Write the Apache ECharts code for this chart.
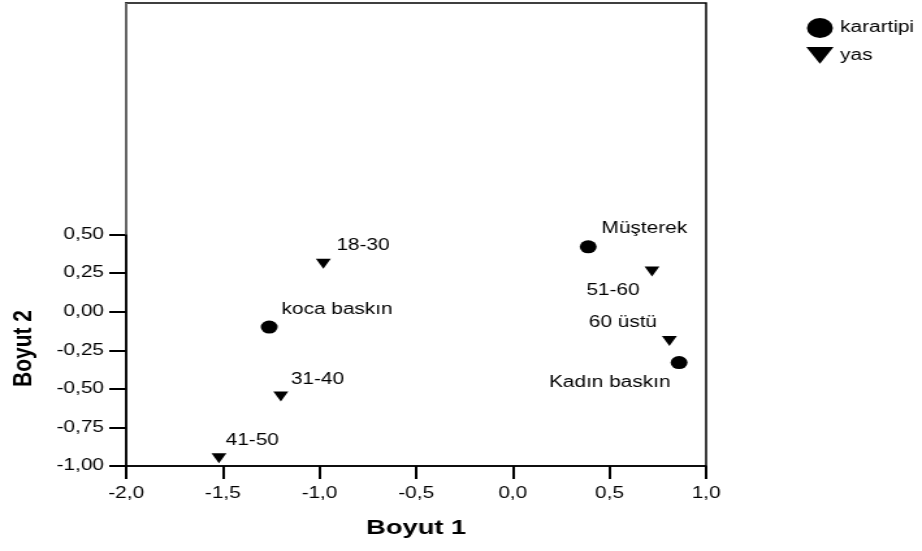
<!DOCTYPE html>
<html>
<head>
<meta charset="utf-8">
<script src="https://cdn.jsdelivr.net/npm/echarts@6/dist/echarts.min.js"></script>
<style>
  html, body { margin: 0; padding: 0; background: #fff; overflow: hidden; }
  /* the plot is drawn narrow and widened horizontally */
  #chart { width: 709px; height: 551px; transform: scaleX(1.3004); transform-origin: 0 0; }
</style>
</head>
<body>
<div id="chart"></div>
<script>
// Category points (karartipi)
const karartipiNames = ['Müşterek', 'koca baskın', 'Kadın baskın'];
const karartipiX = [0.39, -1.26, 0.86];
const karartipiY = [0.42, -0.10, -0.33];

// Age group points (yas)
const yasNames = ['18-30', '31-40', '41-50', '51-60', '60 üstü'];
const yasX = [-0.98, -1.20, -1.52, 0.72, 0.81];
const yasY = [0.31, -0.55, -0.95, 0.26, -0.19];

// Axis ticks
const xTicks = [-2.0, -1.5, -1.0, -0.5, 0.0, 0.5, 1.0];
const yTicks = [-1.00, -0.75, -0.50, -0.25, 0.00, 0.25, 0.50];

const FONT = "'Liberation Sans', Arial, sans-serif";
const TRI = 'path://M0,0L20,0L10,16Z';

// where each point's label sits relative to its marker
const labelPlace = {
  '18-30':        { align: 'left',  offset: [10, -18] },
  'koca baskın':  { align: 'left',  offset: [9.5, -18] },
  '31-40':        { align: 'left',  offset: [7.7, -17] },
  '41-50':        { align: 'left',  offset: [5.2, -18] },
  'Müşterek':     { align: 'left',  offset: [10.3, -18] },
  '51-60':        { align: 'right', offset: [-9.5, 19] },
  '60 üstü':      { align: 'right', offset: [-9.5, -18] },
  'Kadın baskın': { align: 'right', offset: [-6.6, 20] }
};

function points(names, xs, ys) {
  return names.map((n, i) => ({
    name: n,
    value: [xs[i], ys[i]],
    label: {
      show: true,
      position: 'inside',
      align: labelPlace[n].align,
      verticalAlign: 'middle',
      offset: labelPlace[n].offset,
      formatter: '{b}',
      color: '#000',
      fontSize: 16,
      fontFamily: FONT
    }
  }));
}

const chart = echarts.init(document.getElementById('chart'));
chart.setOption({
  animation: false,
  textStyle: { fontFamily: FONT },
  grid: {
    left: 97, right: 166, top: 3, bottom: 85,
    show: true, borderColor: '#000', borderWidth: 1.5, backgroundColor: 'transparent'
  },
  legend: {
    orient: 'vertical',
    left: 615, top: 13,
    itemWidth: 21, itemHeight: 20, itemGap: 9,
    textStyle: { fontSize: 16, color: '#000', fontFamily: FONT },
    data: [
      { name: 'karartipi', icon: 'circle' },
      { name: 'yas', icon: TRI }
    ]
  },
  xAxis: {
    type: 'value',
    min: -2, max: 1, interval: 0.5,
    name: 'Boyut 1',
    nameLocation: 'middle',
    nameGap: 52,
    nameTextStyle: { fontSize: 21, fontWeight: 'bold', color: '#000', fontFamily: FONT },
    axisLine: { show: true, onZero: false, lineStyle: { color: '#000', width: 1.5 } },
    axisTick: { show: true, inside: false, length: 13, lineStyle: { color: '#000', width: 2 } },
    axisLabel: {
      margin: 20, fontSize: 16, color: '#000', fontFamily: FONT,
      customValues: xTicks,
      formatter: v => v.toFixed(1).replace('.', ',')
    },
    splitLine: { show: false }
  },
  yAxis: {
    type: 'value',
    min: -1, max: 2, interval: 0.25,
    axisLine: { show: true, onZero: false, lineStyle: { color: '#000', width: 1.5 } },
    axisTick: { show: true, inside: false, length: 13, customValues: yTicks, lineStyle: { color: '#000', width: 2 } },
    axisLabel: {
      margin: 17, fontSize: 16, color: '#000', fontFamily: FONT,
      customValues: yTicks,
      formatter: v => v.toFixed(2).replace('.', ',')
    },
    splitLine: { show: false }
  },
  graphic: [{
    type: 'text',
    left: 8, top: 310,
    rotation: Math.PI / 2,
    style: { text: 'Boyut 2', fill: '#000', font: "bold 21px 'Liberation Sans', Arial, sans-serif" },
    originX: 0, originY: 0
  }],
  series: [
    {
      name: 'karartipi',
      type: 'scatter',
      symbol: 'circle',
      symbolSize: 13,
      itemStyle: { color: '#000', opacity: 1 },
      emphasis: { disabled: true },
      data: points(karartipiNames, karartipiX, karartipiY),
      markLine: {
        silent: true, symbol: 'none', label: { show: false },
        lineStyle: { color: '#666', width: 2, type: 'solid' },
        data: [[{ coord: [-2, 0.5] }, { coord: [-2, 2] }]]
      }
    },
    {
      name: 'yas',
      type: 'scatter',
      symbol: TRI,
      symbolSize: [11.5, 10],
      symbolKeepAspect: false,
      itemStyle: { color: '#000', opacity: 1 },
      emphasis: { disabled: true },
      data: points(yasNames, yasX, yasY)
    }
  ]
});
</script>
</body>
</html>
